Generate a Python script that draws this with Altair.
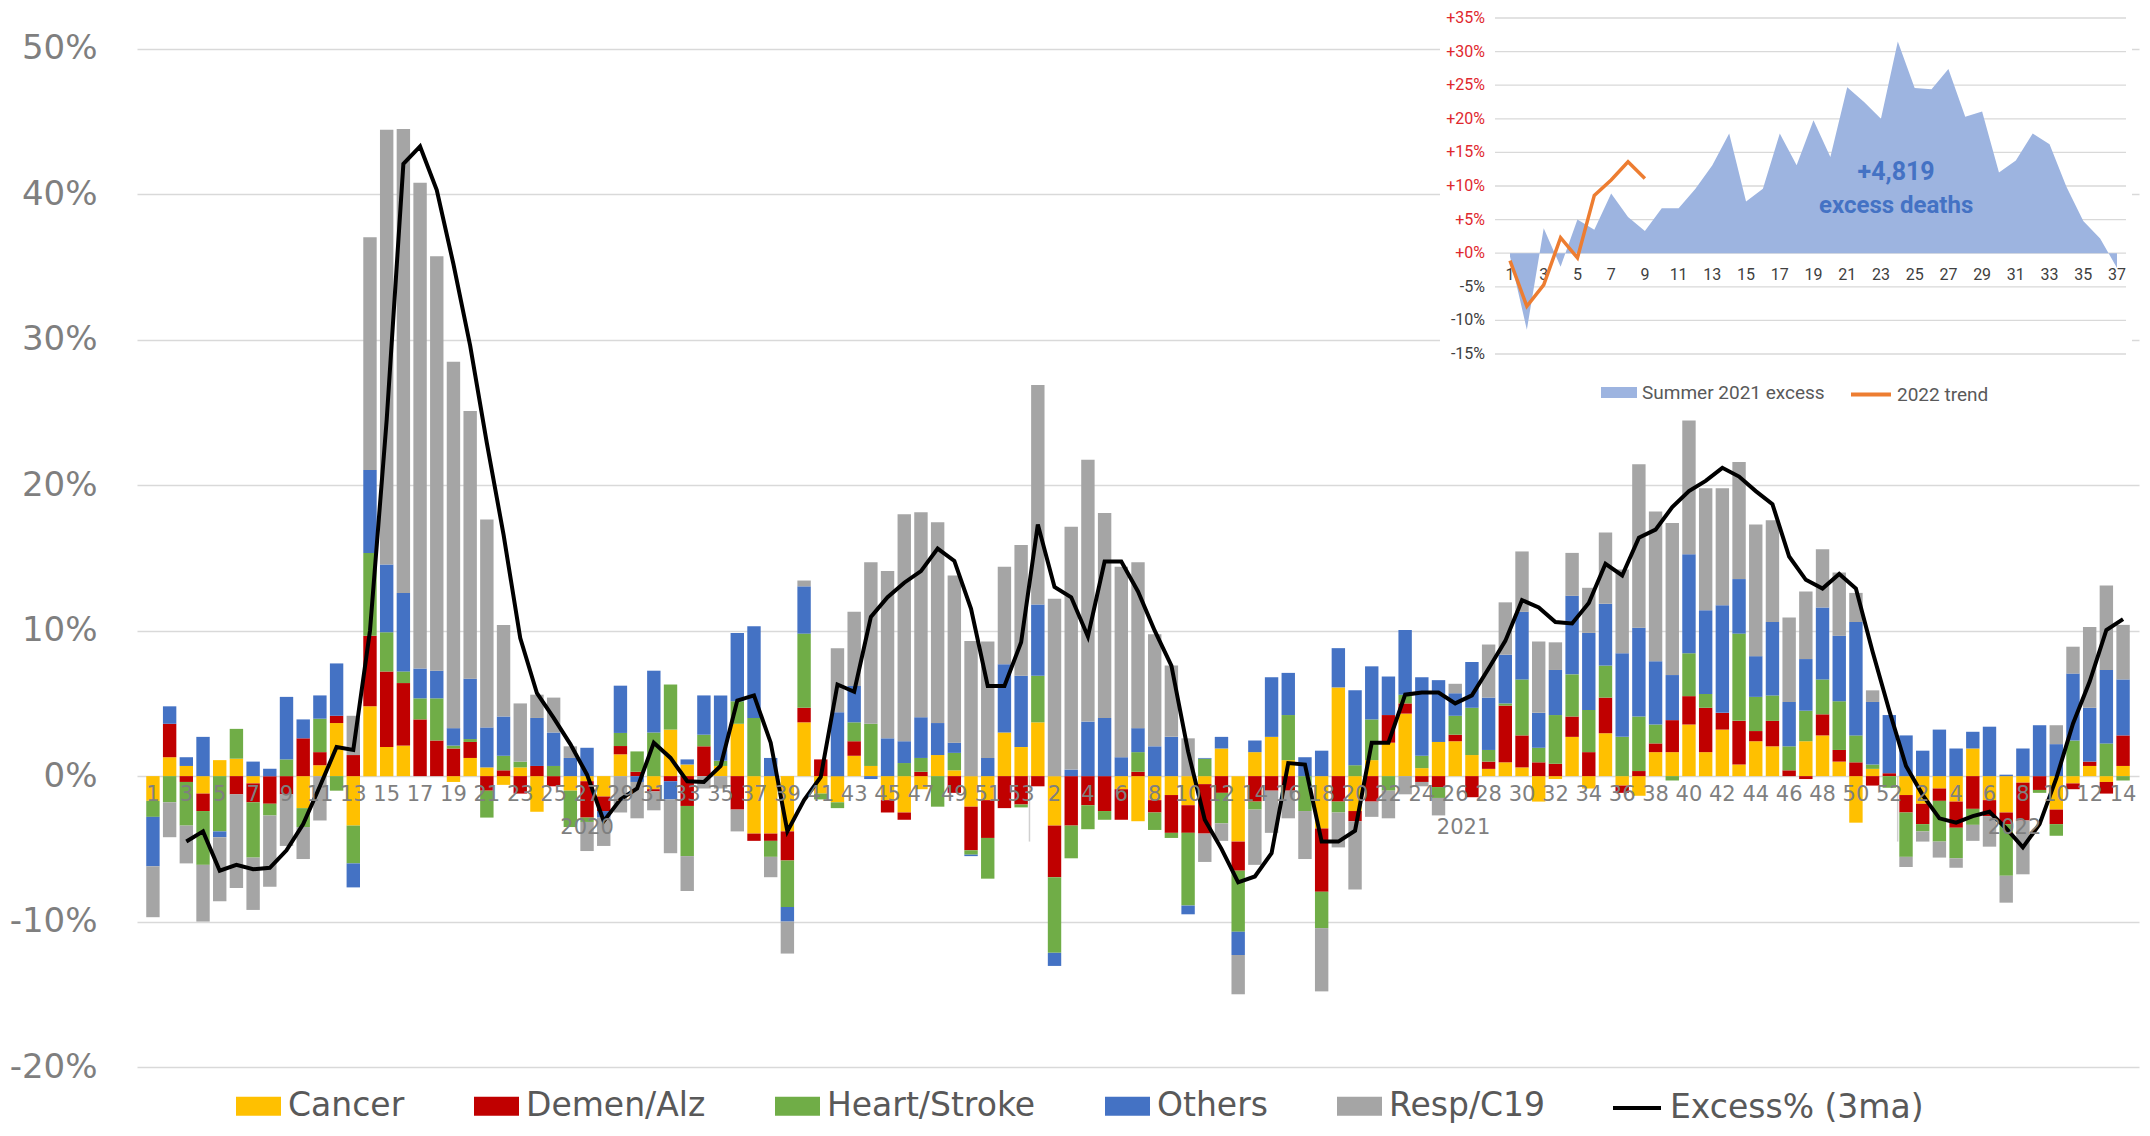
import altair as alt
import pandas as pd

# ---------------- data ----------------
CAUSES = ["Cancer", "Demen/Alz", "Heart/Stroke", "Others", "Resp/C19"]
COLORS = ["#FFC000", "#C00000", "#70AD47", "#4472C4", "#A5A5A5"]

YEAR_NAMES = ["2020", "2021", "2022"]
YEAR_WEEKS = [53, 52, 14]
WEEKS = [w for n in YEAR_WEEKS for w in range(1, n + 1)]

# weekly excess by cause, % of expected (2020 w1..w53, 2021 w1..w52, 2022 w1..w14)
CANCER = [
    -1.7, 1.3, 0.7, -1.2, 1.1, 1.2, -0.5, 0, 0, -2.2,
    0.75, 3.65, -3.4, 4.8, 2.0, 2.1, 0, 0, -0.4, 1.25,
    0.6, -0.6, 0.6, -2.45, 0, -1.0, -0.35, -1.4, 1.5, 0,
    -0.9, 3.2, 0.8, 0, 0.7, 3.6, -3.95, -3.95, -3.8, 3.7,
    -1.2, -1.8, 1.4, 0.7, -1.65, -2.5, -0.9, 1.45, 0.4, -2.1,
    -1.65, 3.0, 2.0,
    3.7, -3.4, 0, 0, 0, -0.9, -3.1, -1.65, -1.3, -2.0,
    -0.55, 1.9, -4.5, 1.65, 2.7, 1.1, 0, -3.6, 6.1, -2.4,
    1.1, 2.3, 4.3, 0.55, 2.35, 2.4, 1.45, 0.5, 0.95, 0.6,
    -1.75, -0.2, 2.7, -0.85, 2.95, -0.65, -1.35, 1.65, 1.65, 3.55,
    1.65, 3.2, 0.8, 2.4, 2.05, 0, 2.4, 2.8, 1.0, -3.2,
    0.5, 0,
    -1.3, -1.9, -0.85, -1.75, 1.9, -1.65, -2.5, -0.45, 0, -2.3,
    -0.5, 0.7, -0.4, 0.7,
]
DEMEN = [
    0, 2.3, -0.4, -1.2, 0, -1.25, -1.3, -1.9, -1.25, 2.6,
    0.9, 0.5, 1.45, 4.85, 5.2, 4.3, 3.9, 2.45, 1.9, 1.1,
    -1.0, 0.4, -1.2, 0.7, -0.7, 0, -2.5, -1.0, 0.57, 0.3,
    -0.15, -0.35, -2.05, 2.05, 0, -2.3, -0.5, -0.5, -2.0, 1.0,
    1.15, 0, 1.0, 0, -0.85, -0.5, 0.3, 0, -1.15, -3.0,
    -2.6, -2.2, -1.95,
    -0.7, -3.55, -3.4, -2.0, -2.4, -2.1, 0.3, -0.85, -2.6, -1.9,
    -3.4, -1.15, -2.0, -1.75, -1.0, -1.0, 0, -4.35, -1.75, -0.7,
    -1.75, 1.9, 0.7, -0.4, -0.75, 0.45, -1.45, 0.5, 3.9, 2.2,
    0.95, 0.85, 1.4, 1.65, 2.45, -0.5, 0.35, 0.6, 2.2, 1.95,
    3.05, 1.15, 3.0, 0.7, 1.75, 0.4, -0.2, 1.45, 0.8, 0.95,
    -0.65, 0.2,
    -1.2, -1.4, -0.85, -1.8, -2.25, -1.1, -0.8, -2.6, -0.95, -1.0,
    -0.4, 0.3, -0.8, 2.1,
]
HEART = [
    -1.1, -1.8, -3.0, -3.7, -3.8, 2.05, -3.8, -0.8, 1.15, -1.3,
    2.3, -1.0, -2.6, 5.7, 2.7, 0.8, 1.45, 2.9, 0.2, 0.2,
    -1.85, 1.0, 0.4, 0, 0.7, -2.5, -0.3, 0, 0.9, 1.4,
    3.0, 3.1, -3.45, 0.8, 0.35, 1.55, 4.0, -1.1, -3.2, 5.1,
    -0.4, -0.4, 1.3, 2.9, 0, 0.9, 0.95, -2.1, 1.2, -0.3,
    -2.8, 0, -0.2,
    3.2, -5.2, -2.25, -1.65, -0.6, 0, 1.35, -1.2, -0.35, -5.0,
    1.2, -2.1, -4.2, -0.55, 0, 3.1, -2.4, -2.5, -0.75, 0.75,
    2.8, -1.0, 0.6, 0.85, -0.75, 1.3, 3.25, 0.8, 0.15, 3.85,
    1.0, 3.35, 2.9, 2.9, 2.2, 2.7, 3.75, 1.3, -0.3, 2.95,
    0.95, 0, 6.0, 2.35, 1.75, 1.65, 2.1, 2.4, 3.35, 1.85,
    0.3, -0.8,
    -3.05, -0.5, -2.8, -2.1, -1.1, 0, -3.55, 0, -0.2, -0.8,
    2.45, 0, 2.25, -0.3,
]
OTHERS = [
    -3.4, 1.2, 0.6, 2.7, -0.4, 0, 1.0, 0.5, 4.3, 1.3,
    1.6, 3.6, -1.65, 5.7, 4.65, 5.4, 2.05, 1.9, 1.2, 4.15,
    2.75, 2.7, 0, 3.3, 2.3, 1.25, 1.95, -0.45, 3.25, -0.4,
    4.25, -1.25, 0.35, 2.7, 4.5, 4.7, 6.3, 1.25, -1.0, 3.25,
    0, 4.4, 2.5, -0.2, 2.6, 1.5, 2.8, 2.2, 0.7, -0.1,
    1.25, 4.7, 4.9,
    4.9, -0.9, 0.45, 3.75, 4.0, 1.3, 1.65, 2.05, 2.7, -0.6,
    0.05, 0.8, -1.6, 0.8, 4.1, 2.9, 1.3, 1.75, 2.7, 5.15,
    3.65, 2.65, 4.45, 5.4, 4.25, 1.55, 3.15, 3.6, 3.35, 4.65,
    2.4, 3.1, 5.4, 5.3, 4.25, 5.75, 6.1, 4.35, 3.1, 6.8,
    5.75, 7.4, 3.75, 2.8, 5.05, 3.05, 3.55, 4.95, 4.5, 7.8,
    4.3, 4.0,
    2.8, 1.75, 3.2, 1.9, 1.15, 3.4, 0.1, 1.9, 3.5, 2.2,
    4.6, 3.7, 5.05, 3.85,
]
RESP = [
    -3.5, -2.4, -2.6, -3.9, -4.4, -6.45, -3.6, -4.9, -3.55, -2.2,
    -3.05, 0, 2.7, 16.0, 29.9, 31.9, 33.4, 28.5, 25.2, 18.4,
    14.3, 6.3, 4.0, 1.6, 2.4, 0.8, -2.0, -1.95, -2.5, -2.5,
    -1.3, -3.7, -2.4, -0.85, -0.85, -1.5, 0, -1.4, -2.2, 0.4,
    0, 4.4, 5.1, 11.1, 11.5, 15.6, 14.1, 13.8, 11.5, 9.3,
    8.0, 6.7, 9.0,
    15.1, 12.2, 16.7, 18.0, 14.1, 13.1, 11.4, 7.7, 4.9, 2.6,
    -1.95, -1.2, -2.7, -3.8, -2.9, -1.9, -3.3, -4.35, -2.4, -4.7,
    -1.05, -1.9, -1.25, -0.3, -1.2, 0.65, 0, 3.65, 3.6, 4.15,
    4.9, 1.9, 2.95, 3.1, 4.9, 5.75, 11.25, 10.3, 10.45, 9.2,
    8.4, 8.05, 8.05, 9.05, 7.0, 5.8, 4.65, 4.0, 4.35, 2.0,
    0.8, 0,
    -0.7, -0.7, -1.1, -0.65, -1.1, -2.1, -1.85, -3.7, 0, 1.3,
    1.85, 5.55, 5.8, 3.75,
]
EXCESS_3MA = [
    None, None, -4.5, -3.8, -6.5, -6.1, -6.4, -6.3, -5.1, -3.3,
    -0.7, 2.0, 1.8, 10.0, 24.5, 42.1, 43.3, 40.3, 35.2, 29.6,
    22.9, 16.6, 9.5, 5.7, 4.0, 2.2, 0.1, -3.1, -1.6, -0.85,
    2.3, 1.25, -0.35, -0.4, 0.7, 5.2, 5.55, 2.3, -3.8, -1.65,
    -0.05, 6.3, 5.8, 10.95, 12.3, 13.3, 14.1, 15.65, 14.8, 11.5,
    6.2, 6.2, 9.2,
    17.3, 13.0, 12.3, 9.6, 14.75, 14.75, 12.7, 10.0, 7.6, 1.7,
    -3.0, -5.0, -7.3, -6.9, -5.3, 0.9, 0.8, -4.5, -4.5, -3.75,
    2.3, 2.3, 5.6, 5.75, 5.75, 5.0, 5.55, 7.4, 9.3, 12.1,
    11.6, 10.6, 10.5, 11.9, 14.6, 13.8, 16.4, 16.95, 18.5, 19.6,
    20.3, 21.2, 20.6, 19.6, 18.7, 15.1, 13.5, 12.9, 13.9, 12.9,
    8.55, 4.5,
    0.7, -1.3, -2.9, -3.2, -2.75, -2.45, -3.6, -4.9, -3.3, -0.15,
    3.6, 6.5, 10.05, 10.8,
]
LINE_NAME = "Excess% (3ma)"
Y_TICKS = [-0.2, -0.1, 0.0, 0.1, 0.2, 0.3, 0.4, 0.5]

# inset
SUMMER_NAME = "Summer 2021 excess"
TREND_NAME = "2022 trend"
SUMMER_2021 = [
    -0.5, -11.4, 3.7, -2.0, 5.0, 3.5, 8.9, 5.4, 3.3, 6.7,
    6.7, 9.6, 13.1, 17.8, 7.7, 9.6, 17.8, 13.1, 19.8, 14.3,
    24.7, 22.5, 20.0, 31.5, 24.6, 24.4, 27.4, 20.3, 21.1, 12.0,
    13.8, 17.8, 16.2, 9.9, 4.8, 2.2, -2.2,
]
TREND_2022 = [-1.1, -7.9, -4.7, 2.3, -0.7, 8.6, 10.9, 13.6, 11.1]
INSET_TICKS = [-0.15, -0.10, -0.05, 0.0, 0.05, 0.10, 0.15, 0.20, 0.25, 0.30, 0.35]
INSET_TICK_LABELS = ["-15%", "-10%", "-5%", "+0%", "+5%", "+10%", "+15%", "+20%", "+25%", "+30%", "+35%"]
ANNOT_TEXT = ["+4,819", "excess deaths"]
ANNOT_WEEK = [23.9, 23.9]
ANNOT_VAL = [0.1204, 0.0696]

# ---------------- layout constants (pixels) ----------------
W, H = 2002, 1057
PAD = {"left": 129, "top": 2, "right": 3, "bottom": 61}
GREY_TXT = "#7F7F7F"
N = len(WEEKS)

# ---------------- frames ----------------
series = [CANCER, DEMEN, HEART, OTHERS, RESP]
rows = []
for i in range(N):
    for k, c in enumerate(CAUSES):
        rows.append({"idx": i, "cause": c, "ord": k, "value": series[k][i] / 100})
df_bars = pd.DataFrame(rows)

df_line = pd.DataFrame(
    [{"idx": i, "value": v / 100, "series": LINE_NAME} for i, v in enumerate(EXCESS_3MA) if v is not None]
)
df_wlab = pd.DataFrame([{"idx": i, "label": str(WEEKS[i]), "zero": 0.0} for i in range(0, N, 2)])

yr_rows, sep_rows = [], []
start = 0
for name, n in zip(YEAR_NAMES, YEAR_WEEKS):
    yr_rows.append({"idx": start + (n - 1) / 2, "label": name, "zero": 0.0})
    if start + n < N:
        sep_rows.append({"idx": start + n - 0.5, "y0": 0.0, "y1": -0.045})
    start += n
df_years = pd.DataFrame(yr_rows)
df_sep = pd.DataFrame(sep_rows)

df_summer = pd.DataFrame({"week": list(range(1, len(SUMMER_2021) + 1)),
                          "value": [v / 100 for v in SUMMER_2021], "series": SUMMER_NAME})
df_trend = pd.DataFrame({"week": list(range(1, len(TREND_2022) + 1)),
                         "value": [v / 100 for v in TREND_2022], "series": TREND_NAME})
df_iticks = pd.DataFrame({"v": INSET_TICKS, "lab": INSET_TICK_LABELS})
df_ixlab = pd.DataFrame({"week": list(range(1, 38, 2)), "label": [str(w) for w in range(1, 38, 2)], "zero": 0.0})
df_annot = pd.DataFrame({"week": ANNOT_WEEK, "v": ANNOT_VAL, "t": ANNOT_TEXT})

# ---------------- main chart ----------------
xs = alt.Scale(domain=[-0.655, N - 1 + 0.655], nice=False, zero=False)
ys = alt.Scale(domain=[-0.2, 0.5268], nice=False, zero=False)
y_axis = alt.Axis(
    values=Y_TICKS,
    labelExpr="(datum.value < -0.0001 ? '-' : '') + format(abs(datum.value), '.0%')",
    labelFont="DejaVu Sans", labelFontSize=34, labelColor=GREY_TXT,
    grid=True, gridColor="#D9D9D9", gridWidth=1.5,
    domain=False, ticks=False, labelPadding=40, title=None,
)

LEG_CENTER = 1096  # legend row centre, in plot pixels
bars = alt.Chart(df_bars).mark_bar(width=13.4, orient="vertical").encode(
    x=alt.X("idx:Q", scale=xs, axis=None),
    y=alt.Y("value:Q", scale=ys, stack="zero", axis=y_axis),
    color=alt.Color(
        "cause:N",
        scale=alt.Scale(domain=CAUSES, range=COLORS),
        legend=alt.Legend(
            orient="none", legendX=99, legendY=LEG_CENTER - 22.5, direction="horizontal", columns=5,
            title=None, symbolType="M-1,-0.42H1V0.42H-1Z", symbolSize=2025, symbolStrokeWidth=0,
            labelFont="DejaVu Sans", labelFontSize=33, labelColor="#595959",
            labelOffset=7, columnPadding=69, labelLimit=500, padding=0,
        ),
    ),
    order=alt.Order("ord:Q"),
)

line = alt.Chart(df_line).mark_line(strokeWidth=4).encode(
    x=alt.X("idx:Q", scale=xs, axis=None),
    y=alt.Y("value:Q", scale=ys, axis=y_axis),
    stroke=alt.Stroke(
        "series:N",
        scale=alt.Scale(domain=[LINE_NAME], range=["#000000"]),
        legend=alt.Legend(
            orient="none", legendX=1474, legendY=LEG_CENTER - 24, title=None,
            symbolType="stroke", symbolSize=2304, symbolStrokeWidth=4,
            labelFont="DejaVu Sans", labelFontSize=33, labelColor="#595959",
            labelOffset=7, labelLimit=500, padding=0,
        ),
    ),
)

wlabels = alt.Chart(df_wlab).mark_text(
    font="DejaVu Sans", fontSize=21, color=GREY_TXT, baseline="middle", dy=19
).encode(
    x=alt.X("idx:Q", scale=xs, axis=None),
    y=alt.Y("zero:Q", scale=ys, axis=y_axis),
    text="label:N",
)
ylabels = alt.Chart(df_years).mark_text(
    font="DejaVu Sans", fontSize=21, color=GREY_TXT, baseline="middle", dy=52
).encode(
    x=alt.X("idx:Q", scale=xs, axis=None),
    y=alt.Y("zero:Q", scale=ys, axis=y_axis),
    text="label:N",
)
seps = alt.Chart(df_sep).mark_rule(color="#D0D0D0", strokeWidth=1.5).encode(
    x=alt.X("idx:Q", scale=xs, axis=None),
    y=alt.Y("y0:Q", scale=ys, axis=y_axis),
    y2="y1:Q",
)

main = alt.layer(seps, bars, line, wlabels, ylabels)

# ---------------- inset ----------------
IX0, IX1 = 1373, 1980      # pixel x of week 1 and week 37
IY_BOT, IY_TOP = 344, 8    # pixel y of -15% and +35%
ixs = alt.Scale(domain=[1, 37], range=[IX0, IX1], nice=False, zero=False)
iys = alt.Scale(domain=[-0.15, 0.35], range=[IY_BOT, IY_TOP], nice=False, zero=False)

box = alt.Chart(pd.DataFrame({"a": [0]})).mark_rect(color="white").encode(
    x=alt.value(1303), x2=alt.value(1995), y=alt.value(0), y2=alt.value(402)
)
igrid = alt.Chart(df_iticks).mark_rule(color="#D9D9D9", strokeWidth=1.3).encode(
    y=alt.Y("v:Q", scale=iys, axis=None), x=alt.value(1358), x2=alt.value(1989)
)
iylab_pos = alt.Chart(df_iticks[df_iticks["v"] >= 0]).mark_text(
    font="Roboto", fontSize=16, color="#E0282E", align="right", baseline="middle"
).encode(y=alt.Y("v:Q", scale=iys, axis=None), x=alt.value(1348), text="lab:N")
iylab_neg = alt.Chart(df_iticks[df_iticks["v"] < 0]).mark_text(
    font="Roboto", fontSize=16, color="#404040", align="right", baseline="middle"
).encode(y=alt.Y("v:Q", scale=iys, axis=None), x=alt.value(1348), text="lab:N")

iarea = alt.Chart(df_summer).mark_area(opacity=1).encode(
    x=alt.X("week:Q", scale=ixs, axis=None),
    y=alt.Y("value:Q", scale=iys, axis=None),
    fill=alt.Fill(
        "series:N",
        scale=alt.Scale(domain=[SUMMER_NAME], range=["#9DB4E0"]),
        legend=alt.Legend(
            orient="none", legendX=1464, legendY=364.5, title=None,
            symbolType="M-1,-0.3H1V0.3H-1Z", symbolSize=1296, symbolStrokeWidth=0,
            labelFont="Roboto", labelFontSize=19, labelColor="#595959",
            labelOffset=5, labelLimit=500, padding=0,
        ),
    ),
)
ixlab = alt.Chart(df_ixlab).mark_text(
    font="Roboto", fontSize=16, color="#404040", baseline="middle", dy=22
).encode(
    x=alt.X("week:Q", scale=ixs, axis=None),
    y=alt.Y("zero:Q", scale=iys, axis=None),
    text="label:N",
)
itrend = alt.Chart(df_trend).mark_line(strokeWidth=3.5).encode(
    x=alt.X("week:Q", scale=ixs, axis=None),
    y=alt.Y("value:Q", scale=iys, axis=None),
    stroke=alt.Stroke(
        "series:N",
        scale=alt.Scale(domain=[TREND_NAME], range=["#ED7D31"]),
        legend=alt.Legend(
            orient="none", legendX=1712, legendY=362.5, title=None,
            symbolType="stroke", symbolSize=1600, symbolStrokeWidth=4,
            labelFont="Roboto", labelFontSize=19, labelColor="#595959",
            labelOffset=4, labelLimit=500, padding=0,
        ),
    ),
)
iannot1 = alt.Chart(df_annot.iloc[[0]]).mark_text(
    font="Roboto", fontSize=25, fontWeight="bold", color="#4472C4", baseline="middle"
).encode(x=alt.X("week:Q", scale=ixs, axis=None), y=alt.Y("v:Q", scale=iys, axis=None), text="t:N")
iannot2 = alt.Chart(df_annot.iloc[[1]]).mark_text(
    font="Roboto", fontSize=24, fontWeight="bold", color="#4472C4", baseline="middle"
).encode(x=alt.X("week:Q", scale=ixs, axis=None), y=alt.Y("v:Q", scale=iys, axis=None), text="t:N")

inset = alt.layer(box, igrid, iarea, ixlab, itrend, iylab_pos, iylab_neg, iannot1, iannot2)

chart = (
    alt.layer(main, inset)
    .resolve_scale(x="independent", y="independent", stroke="independent")
    .properties(width=W, height=H, padding=PAD, autosize=alt.AutoSizeParams(type="none"),
                background="white")
    .configure_view(stroke=None)
)

chart.save("out.html", embed_options={"renderer": "svg", "actions": False})
